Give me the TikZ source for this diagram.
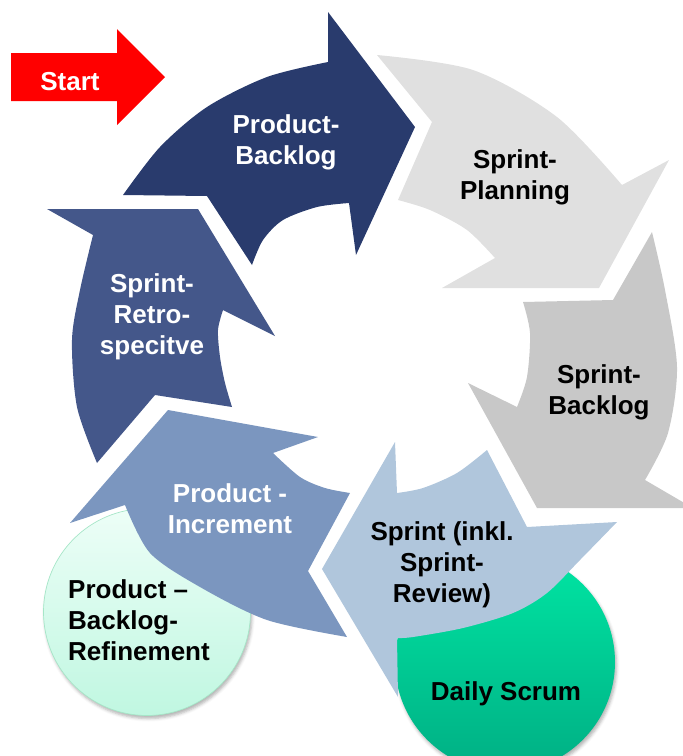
\documentclass[tikz,border=0pt]{standalone}
\usepackage{fontspec}
\setmainfont{Liberation Sans}
\usetikzlibrary{shadows.blur}
\definecolor{navy}{HTML}{293B6D}
\definecolor{retro}{HTML}{44578A}
\definecolor{incr}{HTML}{7B96BF}
\definecolor{sprintc}{HTML}{B0C6DC}
\definecolor{sbacklog}{HTML}{C8C8C8}
\definecolor{splan}{HTML}{E0E0E0}
\definecolor{mintTop}{HTML}{EDFEF7}
\definecolor{mintBot}{HTML}{C0F7E1}
\definecolor{mintLine}{HTML}{A6E6C8}
\definecolor{greenTop}{HTML}{00E6A3}
\definecolor{greenBot}{HTML}{00AF84}
\definecolor{startred}{HTML}{FF0000}
\begin{document}
\begin{tikzpicture}[x=1pt,y=-1pt,
  lbl/.style={font=\fontsize{26}{31}\selectfont\bfseries, align=center, inner sep=0pt},
  bubble/.style={circle, inner sep=0pt, minimum size=#1,
    blur shadow={shadow xshift=1.5pt, shadow yshift=-3pt, shadow blur radius=3pt, shadow opacity=30}}]
\useasboundingbox (0,0) rectangle (683,756);
\clip (0,0) rectangle (683,756);

% circles (behind the arrows)
\node[bubble=207pt, draw=mintLine, line width=0.7pt, top color=mintTop, bottom color=mintBot] (refcirc) at (147,612) {};
\node[bubble=220pt, top color=greenTop, bottom color=greenBot] (dailycirc) at (505,662) {};

% start arrow
\fill[startred] (11,53) -- (117,53) -- (117,29) -- (165,77) -- (117,125) -- (117,101) -- (11,101) -- cycle;

% Product-Backlog
\fill[navy] plot[smooth] coordinates {(123,195) (160,147) (207,107) (267,77) (328,62)}
  -- (328,12) -- (415,127) -- (356,255)
  -- plot[smooth] coordinates {(349,203) (317,207) (283,220) (263,240) (252,265)}
  -- (207,196) -- cycle;

% Sprint-Planning
\fill[splan] plot[smooth] coordinates {(377,55) (473,70) (557,117) (622,185)}
  -- (669,160) -- (599,288) -- (442,288)
  -- plot[smooth] coordinates {(495,258) (467,230) (430,210) (398,200)}
  -- (432,122) -- cycle;

% Sprint-Backlog
\fill[sbacklog] plot[smooth] coordinates {(652,232) (665,290) (677,367) (668,433) (645,480)}
  -- (693,508) -- (537,508) -- (468,383)
  -- plot[smooth] coordinates {(517,407) (527,377) (530,333) (523,302)}
  -- (613,300) -- cycle;

% Sprint (inkl. Sprint-Review)
\fill[sprintc] plot[smooth] coordinates {(617,522) (580,560) (547,593) (513,613) (463,628) (413,637) (397,638)}
  -- (398,697) -- (322,569) -- (395,442)
  -- plot[smooth] coordinates {(397,493) (423,488) (457,473) (487,450)}
  -- (527,527) -- cycle;

% Product-Increment
\fill[incr] plot[smooth] coordinates {(347,637) (267,620) (200,587) (150,553) (125,505)}
  -- (70,523) -- (168,410) -- (318,437)
  -- plot[smooth] coordinates {(273,453) (300,477) (325,488) (350,493)}
  -- (308,571) -- cycle;

% Sprint-Retrospective
\fill[retro] plot[smooth] coordinates {(97,463) (77,407) (72,340) (80,290) (93,235)}
  -- (47,209) -- (198,209) -- (275,336)
  -- plot[smooth] coordinates {(223,310) (218,330) (220,357) (225,383) (232,407)}
  -- (155,395) -- cycle;

% labels
\node[lbl, text=white, anchor=base] (start) at (70,90) {Start};
\node[lbl, text=white] (pb) at (286,142.3) {\strut Product-\\\strut Backlog};
\node[lbl] (sp) at (515,177.3) {\strut Sprint-\\\strut Planning};
\node[lbl] (sb) at (599,392.3) {\strut Sprint-\\\strut Backlog};
\node[lbl] (sr) at (442,564.8) {\strut Sprint (inkl.\\\strut Sprint-\\\strut Review)};
\node[lbl, anchor=base] (ds) at (506,700) {Daily Scrum};
\node[lbl, text=white] (pi) at (230,511.3) {\strut Product -\\\strut Increment};
\node[lbl, text=white] (re) at (152,316.8) {\strut Sprint-\\\strut Retro-\\\strut specitve};
\node[lbl, align=left, anchor=west] (pbr) at (68,622.8) {\strut Product –\\\strut Backlog-\\\strut Refinement};
\end{tikzpicture}
\end{document}
